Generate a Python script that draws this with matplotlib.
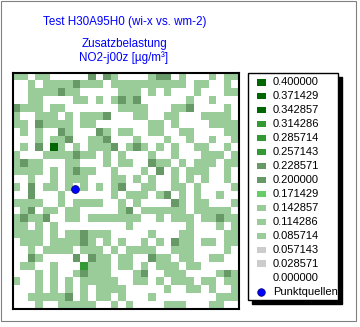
import numpy as np
import matplotlib
matplotlib.use("Agg")
import matplotlib.pyplot as plt
from matplotlib.colors import ListedColormap, BoundaryNorm
from matplotlib.patches import Rectangle

plt.rcParams['font.family'] = ['Liberation Sans', 'DejaVu Sans']
plt.rcParams['font.size'] = 8.0

W, H = 360, 327

title = "Test H30A95H0 (wi-x vs. wm-2)"
subtitle = ["Zusatzbelastung", "NO2-j00z [µg/m³]"]

# class limits (lower bound of each class) and their fill colours
levels = [0.0, 0.028571, 0.057143, 0.085714, 0.114286, 0.142857, 0.171429,
          0.200000, 0.228571, 0.257143, 0.285714, 0.314286, 0.342857,
          0.371429, 0.400000]
level_colors = ["#ffffff", "#cccccc", "#cccccc", "#99cc99", "#99cc99",
                "#99cc99", "#66cc66", "#669966", "#669966", "#339933",
                "#339933", "#339933", "#006600", "#006600", "#006600"]

# concentration per cell code: 0 = none, 1..4 = rising load
code_conc = [0.0, 0.10, 0.21, 0.27, 0.35]

# 30 x 30 receptor grid, top row first
rows = [
    "110110000020210" "000122010001011",
    "001011112111011" "111111110110010",
    "001111211000001" "110101000100011",
    "001100001101012" "120000001001000",
    "211101100000001" "111000112000010",
    "100111010111200" "011001100011110",
    "110211110110000" "000110100001111",
    "010100210002101" "100110011000011",
    "000101120011200" "010001001001001",
    "010204101011120" "121010100110010",
    "100011112110101" "000100100011101",
    "121100011000101" "100211010111011",
    "111101012110010" "001020101110010",
    "001001011100011" "010100101010010",
    "102011010101012" "001100110100001",
    "002000100000010" "111012010100100",
    "111100101111001" "010000210110001",
    "012011011000001" "201111110111110",
    "121120011011111" "110010111011211",
    "110101000000000" "100000001000101",
    "111101011211100" "000100011000011",
    "011101111210101" "001010211011011",
    "001011110111010" "111100111000010",
    "002100002021101" "100211011001100",
    "011001000311101" "101011101100000",
    "000101001211100" "012001110000121",
    "100101010111110" "011010111011011",
    "000101010101111" "000001001101001",
    "001111120101101" "000100000000111",
    "000100111110010" "100001110001100",
]

# point source position in grid units
src_x = [8.3]
src_y = [14.8]

codes = np.array([[int(c) for c in r] for r in rows])
conc = np.array(code_conc)[codes]

fig = plt.figure(figsize=(W / 100, H / 100), dpi=100)

# full-figure overlay in pixel units for titles, legend and frame
bg = fig.add_axes([0, 0, 1, 1])
bg.set_xlim(0, W)
bg.set_ylim(H, 0)
bg.axis('off')
bg.add_patch(Rectangle((1, 1), 355, 320, fill=False, edgecolor='#808080', lw=0.8))

blue = '#0000ff'
bg.text(124.5, 22.5, title, color=blue, ha='center', va='center', fontsize=8.4)
bg.text(125, 44.5, subtitle[0], color=blue, ha='center', va='center', fontsize=8.4)
bg.text(123.5, 57.5, subtitle[1], color=blue, ha='center', va='center', fontsize=8.4)

# map
ax = fig.add_axes([12.5 / W, 1 - 309 / H, 226.5 / W, 236.5 / H])
cmap = ListedColormap(level_colors)
norm = BoundaryNorm(levels + [0.428571], cmap.N)
n = codes.shape[0]
ax.pcolormesh(np.arange(n + 1), np.arange(n + 1), conc, cmap=cmap, norm=norm)
ax.plot(src_x, src_y, 'o', ms=5.6, mfc=blue, mec='#000080', mew=0.6)
ax.set_xlim(0, n)
ax.set_ylim(n, 0)
ax.set_xticks([])
ax.set_yticks([])
for s in ax.spines.values():
    s.set_linewidth(1.5)
    s.set_color('black')

# legend box with drop shadow
lx, ly, lw, lh = 248, 73, 90, 227
bg.add_patch(Rectangle((lx + 4, ly + 4), lw, lh, facecolor='black', edgecolor='black'))
bg.add_patch(Rectangle((lx, ly), lw, lh, facecolor='white', edgecolor='black', lw=1))
y0, dy = 82.3, 13.95
for i, (v, c) in enumerate(zip(levels[::-1], level_colors[::-1])):
    y = y0 + dy * i
    if v > 0:
        bg.add_patch(Rectangle((257, y - 3.2), 9, 6.4, facecolor=c, edgecolor='none'))
    bg.text(273, y, f"{v:.6f}", ha='left', va='center', color='black')
y = y0 + dy * len(levels)
bg.plot([261], [y], 'o', ms=5.4, mfc=blue, mec='#000080', mew=0.6)
bg.text(273, y, "Punktquellen", ha='left', va='center', color='black')

fig.savefig("out.png", dpi=100)
